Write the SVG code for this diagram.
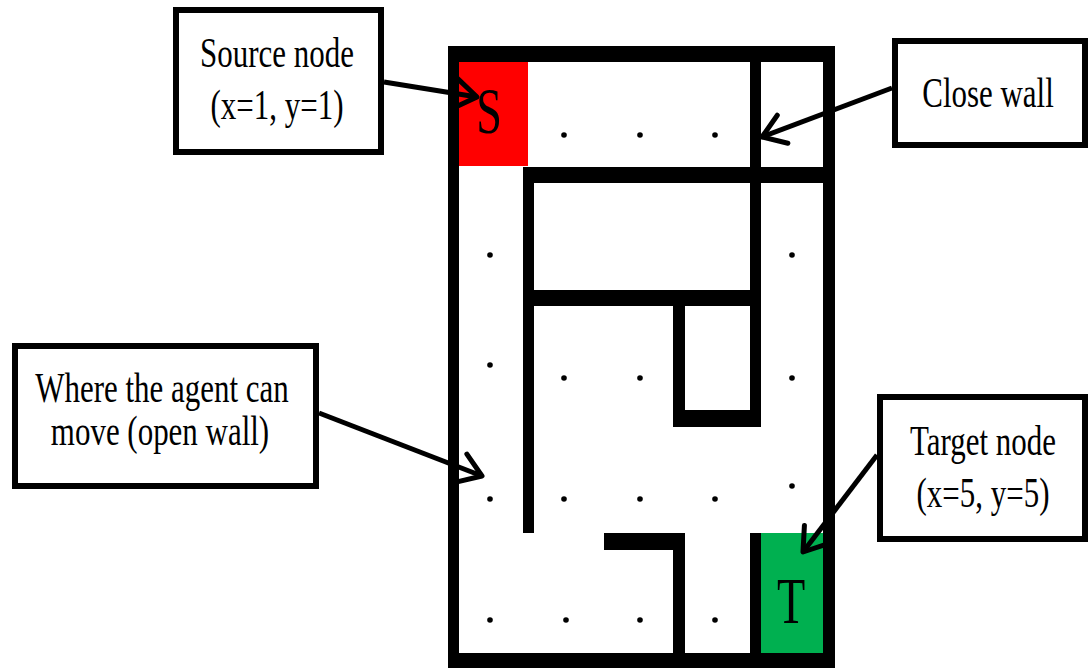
<svg xmlns="http://www.w3.org/2000/svg" width="1089" height="668" viewBox="0 0 1089 668">
  <defs>
    <style>
      .wall { fill: #000; }
      .dot { fill: #000; }
      .box { fill: #fff; stroke: #000; stroke-width: 6; }
      .lbl { font-family: "Liberation Serif", "Times New Roman", serif; font-size: 43px; fill: #000; text-anchor: middle; }
      .big { font-family: "Liberation Serif", "Times New Roman", serif; font-size: 66px; fill: #000; text-anchor: middle; }
      .conn { stroke: #000; stroke-width: 5; fill: none; }
    </style>
    <marker id="arrow" markerUnits="userSpaceOnUse" markerWidth="34" markerHeight="36" viewBox="0 0 34 36" refX="27" refY="18" orient="auto" overflow="visible">
      <path d="M5,3 L27,18 L5,33" fill="none" stroke="#000" stroke-width="5" stroke-linejoin="round" stroke-linecap="round"/>
    </marker>
  </defs>

  <rect width="1089" height="668" fill="#fff"/>

  <!-- maze -->
  <g id="maze">
    <rect id="source-cell" x="459" y="62" width="69" height="104" fill="#ff0000"/>
    <rect id="target-cell" x="761" y="533" width="62" height="120" fill="#00b050"/>

    <!-- outer frame -->
    <rect class="wall" x="448" y="46" width="387" height="16"/>
    <rect class="wall" x="448" y="46" width="11" height="622"/>
    <rect class="wall" x="823" y="46" width="12" height="622"/>
    <rect class="wall" x="448" y="653" width="387" height="15"/>

    <!-- inner walls -->
    <rect class="wall" x="750" y="62" width="11" height="365"/>
    <rect class="wall" x="523" y="167" width="312" height="16"/>
    <rect class="wall" x="523" y="167" width="11" height="366"/>
    <rect class="wall" x="534" y="290" width="227" height="16"/>
    <rect class="wall" x="673" y="290" width="12" height="137"/>
    <rect class="wall" x="673" y="410" width="88" height="17"/>
    <rect class="wall" x="604" y="533" width="81" height="17"/>
    <rect class="wall" x="673" y="533" width="12" height="120"/>
    <rect class="wall" x="750" y="533" width="11" height="120"/>

    <!-- cell centres -->
    <circle class="dot" cx="564" cy="135" r="2.8"/>
    <circle class="dot" cx="640" cy="135" r="2.8"/>
    <circle class="dot" cx="715" cy="135" r="2.8"/>
    <circle class="dot" cx="490" cy="255" r="2.8"/>
    <circle class="dot" cx="792" cy="255" r="2.8"/>
    <circle class="dot" cx="490" cy="365" r="2.8"/>
    <circle class="dot" cx="564" cy="378" r="2.8"/>
    <circle class="dot" cx="640" cy="378" r="2.8"/>
    <circle class="dot" cx="792" cy="378" r="2.8"/>
    <circle class="dot" cx="490" cy="499" r="2.8"/>
    <circle class="dot" cx="564" cy="499" r="2.8"/>
    <circle class="dot" cx="640" cy="499" r="2.8"/>
    <circle class="dot" cx="715" cy="499" r="2.8"/>
    <circle class="dot" cx="792" cy="486" r="2.8"/>
    <circle class="dot" cx="490" cy="620" r="2.8"/>
    <circle class="dot" cx="566" cy="620" r="2.8"/>
    <circle class="dot" cx="640" cy="620" r="2.8"/>
    <circle class="dot" cx="715" cy="620" r="2.8"/>

    <text class="big" transform="translate(489,133) scale(0.7,1)">S</text>
    <text class="big" transform="translate(791,623) scale(0.7,1)">T</text>
  </g>

  <!-- connectors -->
  <g id="connectors">
    <line class="conn" x1="384" y1="82" x2="477" y2="97" marker-end="url(#arrow)"/>
    <line class="conn" x1="892" y1="88" x2="762" y2="137" marker-end="url(#arrow)"/>
    <line class="conn" x1="319" y1="413" x2="482" y2="476" marker-end="url(#arrow)"/>
    <line class="conn" x1="877" y1="455" x2="803" y2="552" marker-end="url(#arrow)"/>
  </g>

  <g id="source-label">
    <rect class="box" x="176" y="10" width="205" height="142"/>
    <text class="lbl" transform="translate(277,67) scale(0.72,1)">Source node</text>
    <text class="lbl" transform="translate(277,119) scale(0.72,1)">(x=1, y=1)</text>
  </g>

  <g id="close-wall-label">
    <rect class="box" x="895" y="41" width="190" height="104"/>
    <text class="lbl" transform="translate(988,107) scale(0.72,1)">Close wall</text>
  </g>

  <g id="open-wall-label">
    <rect class="box" x="15" y="346" width="301" height="140"/>
    <text class="lbl" transform="translate(162,402) scale(0.72,1)">Where the agent can</text>
    <text class="lbl" transform="translate(160,445) scale(0.72,1)">move (open wall)</text>
  </g>

  <g id="target-label">
    <rect class="box" x="880" y="397" width="205" height="142"/>
    <text class="lbl" transform="translate(983,455) scale(0.72,1)">Target node</text>
    <text class="lbl" transform="translate(983,507) scale(0.72,1)">(x=5, y=5)</text>
  </g>
</svg>
